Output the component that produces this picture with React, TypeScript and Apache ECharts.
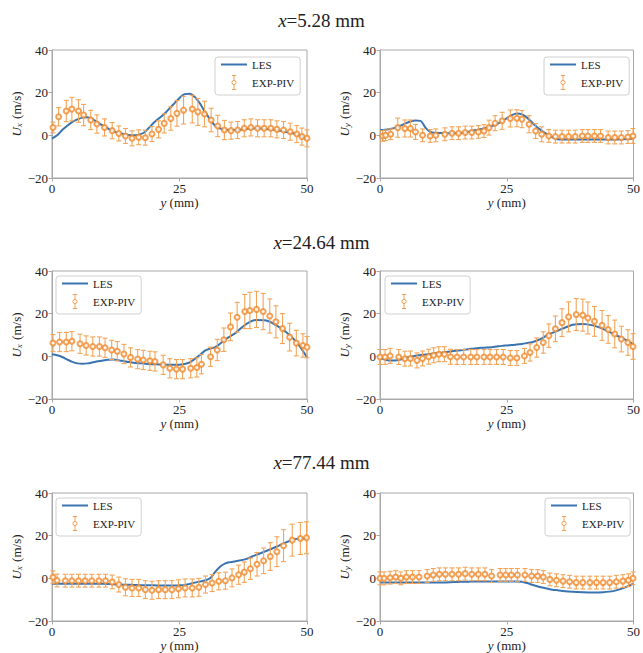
import React, { useEffect, useRef } from "react";
import * as echarts from "echarts";

// ---------- data ----------
const titles = ["5.28", "24.64", "77.44"];
const yAxisNames = ["x", "y", "x", "y", "x", "y"];
const xTicks = [0, 25, 50];
const yTicks = [-20, 0, 20, 40];

const lesX = [0, 1, 2, 3, 4, 5, 6, 7, 8, 9, 10, 11, 12, 13, 14, 15, 16, 17, 18, 19, 20, 21, 22, 23, 24, 25, 26, 27, 28, 29, 30, 31, 32, 33, 34, 35, 36, 38, 40, 42, 44, 46, 48, 50];

const les1 = [-1.5, 0, 2.5, 4.5, 6.3, 7.5, 8.3, 8.5, 7.5, 6, 4.5, 3.2, 2, 1.2, 0.6, 0.2, 0, 0.3, 1.2, 3.5, 6, 8, 10, 12.5, 15, 17.5, 19.3, 19.5, 18, 15, 11, 7.5, 4.5, 3.2, 2.6, 2.5, 2.5, 3, 3.3, 3, 2.5, 1.5, 0.5, -2];
const les2 = [2.5, 2.6, 3, 3.6, 4.5, 5.6, 6.5, 7, 6.8, 3.5, 1.5, 1.2, 1.1, 1, 1, 1, 1.1, 1.5, 2, 2.5, 3, 3.6, 4.3, 5.2, 6.5, 8, 9.5, 10.2, 9.8, 8.3, 6, 3.8, 2, 0.5, -1, -1.8, -2, -2, -2, -2, -2, -2, -1.8, -1.5];
const les3 = [1, 0.5, -0.3, -1.5, -2.6, -3.3, -3.5, -3.3, -2.8, -2.3, -1.9, -1.6, -1.5, -1.8, -2.2, -2.7, -3, -3.2, -3.4, -3.6, -3.7, -3.8, -3.9, -4, -4, -3.9, -3.6, -2.8, -1.2, 0.6, 2.7, 3.6, 4.3, 6, 8, 9.5, 11, 15, 17, 16.8, 14.5, 11.2, 6.5, -0.5];
const les4 = [-1, -1.5, -2, -2, -1.5, -0.8, -0.2, 0.3, 0.6, 0.9, 1.1, 1.4, 1.7, 2, 2.3, 2.6, 2.9, 3.2, 3.5, 3.8, 4, 4.1, 4.3, 4.6, 4.9, 5.1, 5.3, 5.5, 5.8, 6.2, 6.6, 7.4, 8.5, 10, 11, 12, 13, 14.8, 15.2, 14.5, 12.9, 10.5, 8.3, 5.7];
const les5 = [-2.5, -2.5, -2.5, -2.5, -2.5, -2.5, -2.5, -2.5, -2.5, -2.5, -2.5, -2.6, -2.8, -2.9, -3, -3, -3.1, -3.2, -3.3, -3.3, -3.3, -3.4, -3.4, -3.4, -3.4, -3.3, -3.2, -2.6, -2, -1.5, -1, 0, 3, 5.5, 7, 7.6, 8, 9, 11, 12.8, 14.8, 17, 18.5, 18.7];
const les6 = [-2, -2, -2, -2, -2, -2, -2, -2, -2, -2, -2, -2, -1.9, -1.9, -1.8, -1.7, -1.6, -1.6, -1.5, -1.5, -1.5, -1.5, -1.5, -1.5, -1.5, -1.5, -1.5, -1.5, -1.6, -2.2, -3, -3.7, -4.3, -4.8, -5.3, -5.6, -5.9, -6.3, -6.5, -6.6, -6.5, -6, -4.6, -2.5];

const expX1 = [0.2, 1.3, 2.8, 3.9, 5.2, 6.2, 7.6, 8.8, 10.3, 11.8, 13.1, 14.4, 15.7, 17, 18.3, 19.6, 20.9, 22, 23.3, 24.5, 25.8, 27.5, 28.6, 29.9, 31.2, 32.5, 33.8, 35.1, 36.4, 37.7, 39, 40.3, 41.6, 42.9, 44.1, 45.4, 46.7, 48, 49, 50];
const expY1 = [3.7, 8.7, 11.4, 12.3, 11.4, 9.5, 7.2, 5.3, 3.7, 2.2, 0.9, -0.3, -1.4, -0.9, -1.1, 0.6, 2.8, 5.6, 7.9, 10.3, 11.8, 12.3, 11, 10, 7.2, 4.4, 2.5, 2.2, 2.5, 3.3, 3.7, 3.3, 3.3, 3.3, 2.8, 2.5, 1.7, 0.6, -0.6, -1.4];
const err1 = [2.5, 4.3, 5, 5.5, 5.3, 5, 4.5, 4.3, 4, 3.8, 3.5, 3.5, 3.5, 3.5, 3.5, 3.5, 4, 4.5, 5.5, 6, 6.5, 6.5, 6.3, 6, 5.5, 5, 4.5, 4, 4, 4, 4, 4, 4, 4, 4, 4, 4, 4, 4, 4];

const expX2 = [0.5, 1.1, 2.1, 3.5, 4.9, 6, 7, 8.4, 9.9, 11, 12.8, 14.2, 15.5, 16.8, 18.1, 19.4, 20.5, 21.5, 22.7, 24.1, 25.7, 27, 28, 29.4, 30.7, 31.9, 33.3, 34.6, 35.9, 37.2, 38.5, 39.9, 41, 42.3, 43.5, 45, 46.3, 47.6, 48.9, 49.9];
const expY2 = [-0.3, 0, 0.5, 3.6, 3.2, 3.2, 1.6, 0, -0.3, 0, 0.5, 1, 1, 1.3, 1.3, 1.6, 2, 3.6, 5.7, 6.8, 7.9, 8, 7.6, 5.2, 2, 0.5, -0.3, -0.6, -0.6, -0.6, -0.6, -0.3, -0.3, -0.3, -0.3, -1, -1, -1, -0.8, -0.3];
const err2 = [2.5, 2.5, 2.5, 4.5, 4, 4, 3.5, 3, 3, 3, 3, 3, 3, 3, 3, 3, 3, 3.5, 3.5, 4, 4, 4, 4, 4, 3.5, 3.5, 3, 3, 3, 3, 3, 3, 3, 3, 3, 3, 3, 3, 3, 3.5];

const expX3 = [0.2, 1.5, 2.8, 3.9, 5.5, 6.7, 8, 9.3, 10.4, 11.7, 12.8, 14.1, 15.4, 16.8, 17.9, 19.2, 20.2, 21.8, 23.1, 24.4, 25.6, 27.2, 28.4, 29.3, 31.1, 32.4, 33.7, 35, 36.3, 37.8, 38.8, 40.1, 41.4, 42.7, 43.9, 45.2, 46.6, 47.9, 49.2, 50];
const expY3 = [6.2, 6.7, 6.7, 7.1, 5.9, 5.1, 4.6, 4.6, 4, 3, 2.4, 1.1, -0.5, -1.3, -1.7, -2.1, -2.4, -4, -5.6, -6, -6, -5.6, -5.2, -3.7, -0.2, 3, 7.8, 13.8, 18.3, 21, 21.5, 22, 21, 18.9, 16.2, 13, 9, 6.2, 5.1, 4.3];
const err3 = [4, 4.5, 4.5, 4.5, 4.5, 4.5, 4.5, 4.5, 4.5, 4.5, 4.5, 4.5, 4.5, 4.5, 4.5, 4.5, 4.5, 4.5, 4.5, 4.5, 4.5, 4.5, 4.5, 4.5, 4.5, 5, 5.5, 6.5, 7, 8, 8.5, 8.5, 8.5, 8, 7.5, 7, 6.5, 6, 5.5, 5];

const expX4 = [0, 1, 2, 3.7, 4.9, 6, 7.3, 8.4, 9.6, 10.6, 11.6, 12.7, 13.9, 15.2, 16.5, 17.9, 19.1, 20.5, 21.7, 23, 24.3, 25.7, 27, 28.5, 29.6, 30.9, 32.2, 33.3, 34.6, 35.9, 37.2, 38.7, 40, 41, 42.3, 43.8, 45, 46.3, 47.6, 48.9, 49.9];
const expY4 = [-0.3, -0.3, 0.2, -0.3, -1.1, -1, -1.9, -1, -0.2, 0.5, 1, 1, -0.2, -0.3, -0.3, -0.3, -0.3, -0.3, -0.3, -0.3, -0.3, -0.8, -0.8, 0.2, 1.8, 4.1, 6.5, 9.7, 12.9, 15.8, 18.5, 19.6, 19.3, 18, 16.4, 14.5, 12.6, 10.5, 8.1, 6.5, 4.6];
const err4 = [3.5, 3.5, 3.5, 3.5, 3.5, 3.5, 3.5, 3.5, 3.5, 3.5, 3.5, 3.5, 3.5, 3.5, 3.5, 3.5, 3.5, 3.5, 3.5, 3.5, 3.5, 3.5, 3.5, 3.5, 4, 4.5, 5, 5.5, 6, 6.5, 7, 7.5, 7.5, 7.5, 7, 7, 6.5, 6.5, 6, 6, 6];

const expX5 = [0.2, 1, 2.6, 3.9, 5.2, 6.5, 7.8, 9.2, 10.5, 11.8, 13.1, 14.4, 15.7, 17, 18.3, 19.6, 20.9, 22.2, 23.5, 24.8, 26.1, 27.5, 28.8, 30.1, 31.4, 32.7, 34, 35.3, 36.6, 37.7, 38.9, 40.2, 41.5, 42.8, 44.1, 45.4, 47.1, 48.7, 49.9];
const expY5 = [0.5, -1, -1.1, -1.1, -1.1, -1.1, -1.1, -1.1, -1.1, -1.7, -2.9, -4.2, -4.5, -4.5, -5.3, -5.6, -5.3, -5.3, -5.3, -4.9, -4.5, -4.5, -4.2, -2.9, -2.2, -1.4, -1.1, 0.2, 1.7, 2.9, 4.5, 6.6, 8.2, 10.2, 12.5, 15.3, 17.9, 18.7, 19];
const err5 = [3, 3, 3, 3, 3, 3, 3, 3, 3, 3.2, 3.5, 4, 4, 4, 4.2, 4.2, 4.2, 4.2, 4.2, 4.2, 4.2, 4.2, 4.2, 4, 4, 4, 4, 4.2, 4.5, 4.8, 5, 5.5, 6, 6.5, 7, 7.5, 7.5, 7.5, 7.5];

const expX6 = [0, 0.8, 2, 3.1, 4.1, 5.2, 6.4, 7.7, 9.3, 10.5, 11.7, 12.9, 14.2, 15.5, 16.8, 18.1, 19.4, 20.7, 22, 23.7, 24.8, 25.9, 27.1, 28.6, 29.9, 31.1, 32.2, 33.5, 34.8, 36.1, 37.4, 38.7, 40, 41.4, 42.7, 44, 45.3, 46.6, 47.9, 49, 49.9];
const expY6 = [0, 0, 0.3, 0.6, 0, 0.6, 0.6, 0.6, 1.1, 1.6, 1.9, 1.9, 1.9, 1.9, 2.2, 1.9, 1.9, 1.9, 1.1, 1.6, 1.6, 1.6, 1.6, 1.6, 1.1, 1.1, 0.6, -0.5, -0.9, -1.3, -1.6, -2, -2, -2, -2, -2, -2, -1.6, -1.3, -0.9, 0];
const err6 = [3, 3, 3, 3, 3, 3, 3, 3, 3, 3, 3, 3, 3, 3, 3, 3, 3, 3, 3, 3, 3, 3, 3, 3, 3, 3, 3, 3, 3, 3, 3, 3, 3, 3, 3, 3, 3, 3, 3, 3, 3];

const lesSets = [les1, les2, les3, les4, les5, les6];
const expXSets = [expX1, expX2, expX3, expX4, expX5, expX6];
const expYSets = [expY1, expY2, expY3, expY4, expY5, expY6];
const errSets = [err1, err2, err3, err4, err5, err6];

// ---------- layout / style ----------
const FONT = "'Liberation Serif', 'Times New Roman', serif";
const TEXT = "#222";
const SPINE = "#a8a8a8";
const BLUE = "#3a74b0";
const ORANGE = "#ef8a2c";
const ORANGE_BAR = "#f4a457";
const PLOT_W = 255;
const PLOT_H = 128;
const lefts = [52, 380];
const tops = [50, 271, 493];
const titleTops = [9, 231, 451];
const legendPos = [
  { left: 215, top: 57 },
  { left: 544, top: 57 },
  { left: 56, top: 276 },
  { left: 385, top: 276 },
  { left: 56, top: 498 },
  { left: 545, top: 498 },
];

const lineIcon = "path://M0,6L26,6L26,8L0,8Z";
const errIcon =
  "path://M5,0L5,7M5,13L5,20M2,0L8,0M2,20L8,20M8,10A3,3,0,1,1,2,10A3,3,0,1,1,8,10Z";

function buildOption() {
  const grid: any[] = [];
  const xAxis: any[] = [];
  const yAxis: any[] = [];
  const series: any[] = [];
  const legend: any[] = [];
  for (let i = 0; i < 6; i++) {
    const col = i % 2;
    const row = Math.floor(i / 2);
    grid.push({
      left: lefts[col],
      top: tops[row],
      width: PLOT_W,
      height: PLOT_H,
      show: true,
      borderColor: SPINE,
      borderWidth: 1,
      backgroundColor: "transparent",
    });
    xAxis.push({
      gridIndex: i,
      type: "value",
      min: xTicks[0],
      max: xTicks[xTicks.length - 1],
      interval: 25,
      axisLine: { show: true, onZero: false, lineStyle: { color: SPINE, width: 1 } },
      axisTick: { show: true, inside: false, length: 3.5, lineStyle: { color: SPINE } },
      splitLine: { show: false },
      axisLabel: { fontFamily: FONT, fontSize: 13, color: TEXT, margin: 4 },
      name: "{i|y} (mm)",
      nameLocation: "middle",
      nameGap: 14,
      nameTextStyle: {
        fontFamily: FONT,
        fontSize: 13,
        color: TEXT,
        rich: { i: { fontFamily: FONT, fontSize: 13, fontStyle: "italic", color: TEXT } },
      },
    });
    yAxis.push({
      gridIndex: i,
      type: "value",
      min: yTicks[0],
      max: yTicks[yTicks.length - 1],
      interval: 20,
      axisLine: { show: true, onZero: false, lineStyle: { color: SPINE, width: 1 } },
      axisTick: { show: true, inside: false, length: 3.5, lineStyle: { color: SPINE } },
      splitLine: { show: false },
      axisLabel: {
        fontFamily: FONT,
        fontSize: 13,
        color: TEXT,
        margin: 4,
        formatter: (v: number) => String(v).replace("-", "\u2212"),
      },
      name: "{u|U}{s|" + yAxisNames[i] + "}{n| (m/s)}",
      nameLocation: "middle",
      nameRotate: 90,
      nameGap: 26,
      nameTextStyle: {
        fontFamily: FONT,
        fontSize: 13,
        color: TEXT,
        rich: {
          u: { fontFamily: FONT, fontSize: 13, fontStyle: "italic", color: TEXT },
          s: { fontFamily: FONT, fontSize: 9, fontStyle: "italic", color: TEXT, padding: [6, 1, 0, 0] },
          n: { fontFamily: FONT, fontSize: 13, color: TEXT },
        },
      },
    });
    const les = lesSets[i];
    series.push({
      name: "LES",
      type: "line",
      xAxisIndex: i,
      yAxisIndex: i,
      data: lesX.map((x, k) => [x, les[k]]),
      symbol: "none",
      smooth: 0.3,
      lineStyle: { color: BLUE, width: 2 },
      itemStyle: { color: BLUE },
      z: 2,
    });
    const ex = expXSets[i];
    const ey = expYSets[i];
    const ee = errSets[i];
    series.push({
      name: "EXP-PIV bars",
      type: "custom",
      xAxisIndex: i,
      yAxisIndex: i,
      data: ex.map((x, k) => [x, ey[k], ee[k]]),
      encode: { x: 0, y: 1 },
      z: 3,
      renderItem: (params: any, api: any) => {
        const x = api.value(0);
        const y = api.value(1);
        const e = api.value(2);
        const t = api.coord([x, y + e]);
        const b = api.coord([x, y - e]);
        const st = { stroke: ORANGE_BAR, lineWidth: 1.1 };
        return {
          type: "group",
          children: [
            { type: "line", shape: { x1: t[0], y1: t[1], x2: b[0], y2: b[1] }, style: st },
            { type: "line", shape: { x1: t[0] - 2.5, y1: t[1], x2: t[0] + 2.5, y2: t[1] }, style: st },
            { type: "line", shape: { x1: b[0] - 2.5, y1: b[1], x2: b[0] + 2.5, y2: b[1] }, style: st },
          ],
        };
      },
    });
    series.push({
      name: "EXP-PIV",
      type: "scatter",
      xAxisIndex: i,
      yAxisIndex: i,
      data: ex.map((x, k) => [x, ey[k]]),
      symbol: "emptyCircle",
      symbolSize: 5,
      itemStyle: { color: ORANGE, borderColor: ORANGE, borderWidth: 1 },
      z: 4,
    });
    legend.push({
      left: legendPos[i].left,
      top: legendPos[i].top,
      orient: "vertical",
      itemWidth: 26,
      itemHeight: 14,
      itemGap: 3,
      padding: [2, 6, 3, 6],
      backgroundColor: "rgba(255,255,255,0.85)",
      borderColor: "#d0d0d0",
      borderWidth: 1,
      borderRadius: 3,
      selectedMode: false,
      textStyle: { fontFamily: FONT, fontSize: 11, color: TEXT },
      data: [
        { name: "LES", icon: lineIcon, itemStyle: { color: BLUE, borderWidth: 0 } },
        {
          name: "EXP-PIV",
          icon: errIcon,
          itemStyle: { color: "none", borderColor: ORANGE, borderWidth: 1 },
        },
      ],
    });
  }
  const title = titles.map((t, r) => ({
    text: "{i|x}=" + t + " mm",
    left: "center",
    top: titleTops[r],
    padding: 0,
    textStyle: {
      fontFamily: FONT,
      fontSize: 19,
      fontWeight: "normal",
      color: TEXT,
      lineHeight: 22,
      rich: { i: { fontFamily: FONT, fontSize: 19, fontStyle: "italic", color: TEXT, lineHeight: 22 } },
    },
  }));
  return {
    animation: false,
    backgroundColor: "#fff",
    title,
    grid,
    xAxis,
    yAxis,
    legend,
    series,
  };
}

export default function App() {
  const ref = useRef<HTMLDivElement>(null);
  useEffect(() => {
    document.body.style.margin = "0";
    if (!ref.current) return;
    const chart = echarts.init(ref.current, undefined, { renderer: "svg" });
    chart.setOption(buildOption() as any);
    return () => chart.dispose();
  }, []);
  return <div ref={ref} style={{ width: 643, height: 653 }} />;
}
